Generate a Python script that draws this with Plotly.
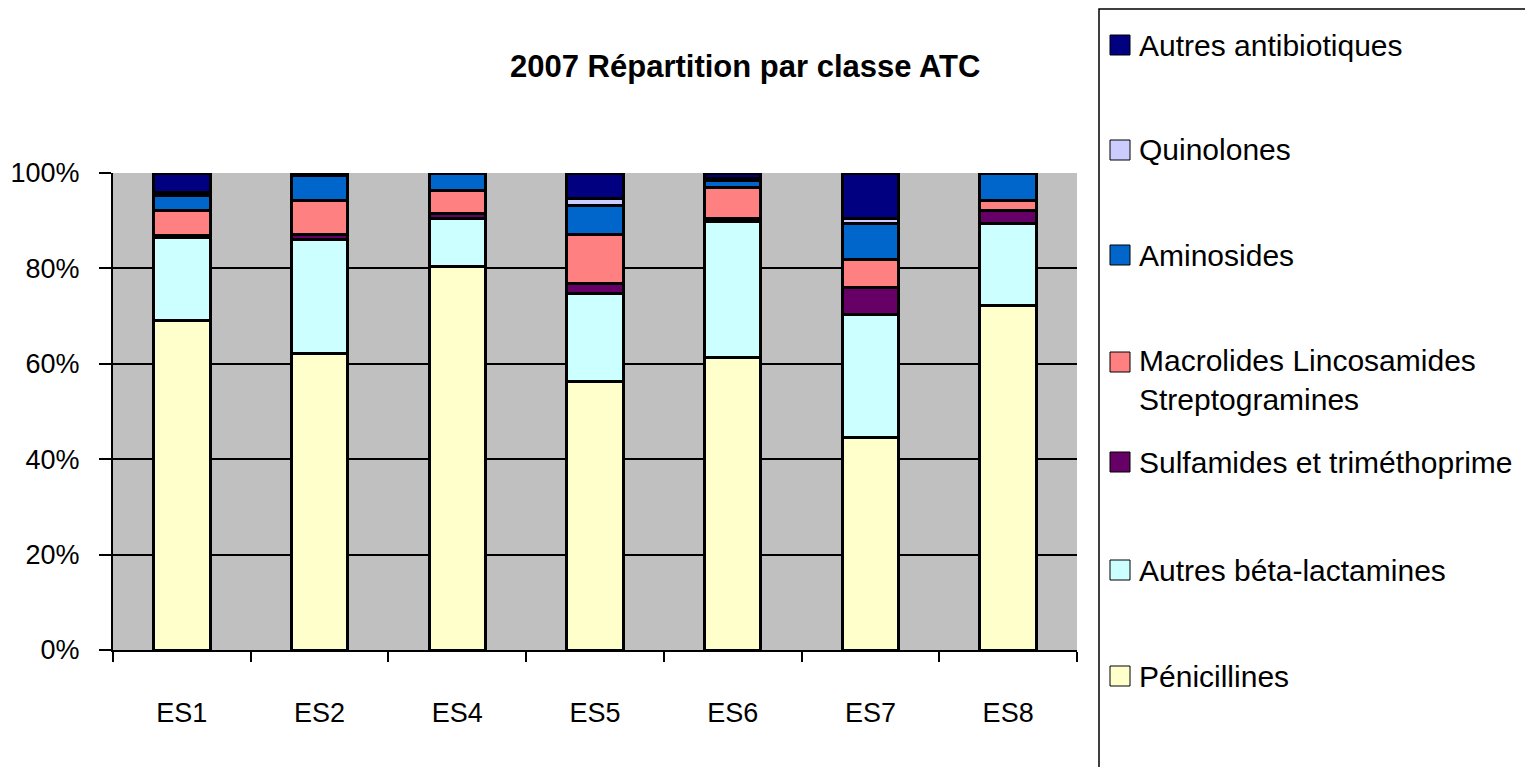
import plotly.graph_objects as go

# 2007 Répartition par classe ATC - parts en % par établissement
etabs = ["ES1", "ES2", "ES4", "ES5", "ES6", "ES7", "ES8"]

penicillines = [69.0, 62.2, 80.3, 56.4, 61.4, 44.6, 72.2]
autres_beta = [17.4, 24.0, 10.1, 18.4, 28.6, 25.8, 17.2]
sulfamides = [0.5, 1.0, 1.0, 2.2, 0.5, 5.6, 2.65]
macrolides = [5.3, 7.2, 4.9, 10.3, 6.6, 5.9, 2.25]
aminosides = [3.0, 5.2, 3.6, 5.9, 1.5, 7.5, 5.7]
quinolones = [0.8, 0.2, 0.0, 1.6, 0.4, 1.05, 0.0]
autres_ab = [4.0, 0.3, 0.0, 5.3, 1.1, 9.6, 0.0]

# bottom -> top of the stack
series = [
    ("Pénicillines", penicillines, "#FFFFCC"),
    ("Autres béta-lactamines", autres_beta, "#CCFFFF"),
    ("Sulfamides et triméthoprime", sulfamides, "#660066"),
    ("Macrolides Lincosamides<br>Streptogramines", macrolides, "#FF8080"),
    ("Aminosides", aminosides, "#0066CC"),
    ("Quinolones", quinolones, "#CCCCFF"),
    ("Autres antibiotiques", autres_ab, "#000080"),
]

OFF = 8  # page body margin
W, H = 1533 - OFF, 767 - OFF
L, R, T, B = 113 - OFF, 1077 - OFF, 173 - OFF, 650 - OFF
FONT = "Liberation Sans, Arial, sans-serif"


def px(x):
    return (x - OFF - L) / (R - L)


def py(y):
    return (B - (y - OFF)) / (B - T)


fig = go.Figure()
for name, vals, col in series:
    fig.add_trace(go.Bar(
        x=etabs, y=vals, name=name,
        marker=dict(color=col, line=dict(color="black", width=3)),
        showlegend=False,
    ))

# legend drawn by hand (top entry = top of the stack)
legend_y = [45, 150, 255, 362, 462, 570, 676]
shapes = [dict(type="rect", xref="paper", yref="paper",
               x0=px(1099), x1=px(1530), y0=py(800), y1=py(9),
               line=dict(color="black", width=1.5), fillcolor="white", layer="below")]
annotations = []
for (name, vals, col), yc in zip(series[::-1], legend_y):
    two = "<br>" in name
    shapes.append(dict(type="rect", xref="paper", yref="paper",
                       x0=px(1110), x1=px(1130), y0=py(yc + 10), y1=py(yc - 10),
                       line=dict(color="black", width=1), fillcolor=col))
    annotations.append(dict(xref="paper", yref="paper", x=px(1137), y=py(yc),
                            xanchor="left", yanchor="top" if two else "middle",
                            yshift=20 if two else 0,
                            text=name, showarrow=False, align="left",
                            font=dict(family=FONT, size=30, color="black")))

annotations.append(dict(xref="paper", yref="paper", x=px(745), y=py(67),
                        xanchor="center", yanchor="middle", showarrow=False,
                        text="<b>2007 Répartition par classe ATC</b>",
                        font=dict(family=FONT, size=31, color="black")))

fig.update_layout(
    width=W, height=H,
    margin=dict(l=L, r=W - R, t=T, b=H - B),
    barmode="stack", barnorm="percent", bargap=0.59,
    plot_bgcolor="#C0C0C0", paper_bgcolor="white",
    shapes=shapes, annotations=annotations,
    font=dict(family=FONT, color="black"),
)
fig.update_yaxes(range=[0, 100], dtick=20, ticksuffix="%", automargin=False,
                 showgrid=True, gridcolor="black", gridwidth=1.5,
                 showline=True, linecolor="black", linewidth=2,
                 ticks="outside", ticklen=12, tickcolor="black", tickwidth=2,
                 ticklabelstandoff=14, tickfont=dict(size=27), zeroline=False)
fig.update_xaxes(showline=True, linecolor="black", linewidth=2, automargin=False,
                 ticks="outside", tickson="boundaries", ticklen=10,
                 tickcolor="black", tickwidth=2, ticklabelstandoff=38,
                 tickfont=dict(size=27))

fig.write_html("out.html")
